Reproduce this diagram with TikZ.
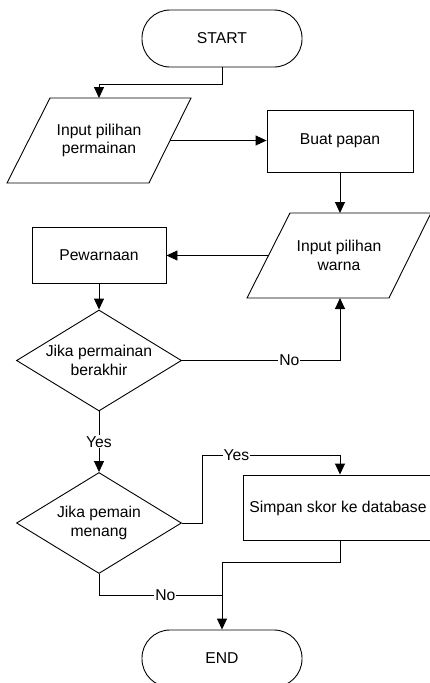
\documentclass[tikz,border=0pt]{standalone}
\usepackage{fontspec}
\setmainfont{Liberation Sans}
\usetikzlibrary{arrows.meta,shapes.geometric,calc}

\tikzset{
  txt/.style={align=center, inner sep=0pt, font=\fontsize{15.7}{18.3}\selectfont},
  base/.style={txt, draw=black, line width=0.9pt},
  terminal/.style={base, rectangle, rounded corners=28pt,
    minimum width=160pt, minimum height=57pt},
  procbox/.style={base, rectangle},
  outline/.style={draw=black, line width=0.9pt},
  decision/.style={outline, diamond, inner sep=0pt,
    minimum width=165pt, minimum height=101pt},
  flow/.style={outline, -{Triangle[length=11pt,width=10pt]}},
  lbl/.style={fill=white, inner sep=1pt, font=\fontsize{15.7}{18.3}\selectfont}
}
% input/output parallelogram drawn around a text node
\newcommand\iopath[1]{%
  \draw[outline] ($(#1)+(-49,-42.5)$) -- ($(#1)+(92,-42.5)$)
    -- ($(#1)+(50,42.5)$) -- ($(#1)+(-92,42.5)$) -- cycle;
  \coordinate (#1-n) at ($(#1)+(21.5,-42.5)$);
  \coordinate (#1-s) at ($(#1)+(-21,42.5)$);
  \coordinate (#1-e) at ($(#1)+(71,0)$);
  \coordinate (#1-w) at ($(#1)+(-70.5,0)$);
}

\begin{document}
\begin{tikzpicture}[x=1pt, y=-1pt]
  \clip (0,0) rectangle (430,683);
  \useasboundingbox (0,0) rectangle (430,683);

  % nodes
  \node[terminal] (start) at (222,38.5) {START};
  \node[txt] (pilihan) at (99,140.5) {Input pilihan\\permainan};
  \iopath{pilihan}
  \node[procbox, minimum width=146pt, minimum height=62pt] (papan) at (340,141) {Buat papan};
  \node[txt] (warna) at (339,255.5) {Input pilihan\\warna};
  \iopath{warna}
  \node[procbox, minimum width=134pt, minimum height=56pt] (pewarnaan) at (99,255.5) {Pewarnaan};
  \node[decision] (akhir) at (99,360.5) {};
  \node[txt] (akhirtxt) at (akhir) {Jika permainan\\berakhir};
  \node[decision] (menang) at (99,523) {};
  \node[txt] (menangtxt) at (menang) {Jika pemain\\menang};
  \node[procbox, minimum width=200pt, minimum height=65pt] (simpan) at (343.5,507.5) {};
  \node[txt] (simpantxt) at (338,508) {Simpan skor ke database};
  \node[terminal] (end) at (222,658.5) {END};

  % bend points
  \coordinate (c1) at (222,84);
  \coordinate (c2) at (202,455);
  \coordinate (c2b) at (340,455);
  \coordinate (c3) at (340,562);
  \coordinate (c4) at (222,595);

  % connectors
  \draw[flow] (start.south) -- (c1) -| (pilihan |- pilihan-n);
  \draw[flow] (pilihan-e) -- (pilihan-e -| papan.west);
  \draw[flow] (papan.south) -- (papan.south |- warna-n);
  \draw[flow] (warna-w) -- (warna-w -| pewarnaan.east);
  \draw[flow] (pewarnaan.south) -- (akhir.north);
  \draw[flow] (akhir.east) -| node[lbl, pos=0.34] {No} (papan.south |- warna-s);
  \draw[flow] (akhir.south) -- node[lbl, pos=0.5] {Yes} (menang.north);
  \draw[flow] (menang.east) -| (c2) -- node[lbl, pos=0.25] {Yes} (c2b) -- (c2b |- simpan.north);
  \draw[outline] (c3 |- simpan.south) -- (c3) -| (c4);
  \draw[outline] (menang.south) |- node[lbl, pos=0.77] {No} (c4);
  \draw[flow] (c4) -- (end.north);
\end{tikzpicture}
\end{document}
